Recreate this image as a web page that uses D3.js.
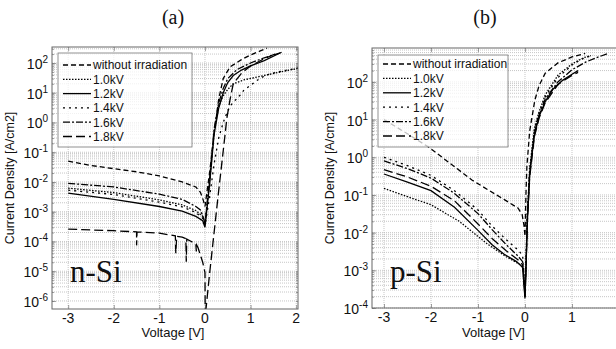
<!DOCTYPE html>
<html>
<head>
<meta charset="utf-8">
<script src="https://cdn.jsdelivr.net/npm/d3@7"></script>
<style>
  body { margin: 0; background: #fff; }
  text { font-family: "Liberation Sans", Arial, sans-serif; fill: #111; }
</style>
</head>
<body>
<div id="my_dataviz"></div>
<script>
// legend labels, same order in both panels
var seriesNames = ["without irradiation", "1.0kV", "1.2kV", "1.4kV", "1.6kV", "1.8kV"];

// tick values
var xTicksA = [-3, -2, -1, 0, 1, 2];
var xTicksB = [-3, -2, -1, 0, 1, 2];
var decadesA = [-6, -5, -4, -3, -2, -1, 0, 1, 2];
var decadesB = [-4, -3, -2, -1, 0, 1, 2];

// (a) n-Si : [voltage V, current density A/cm2]
var nNoIrr = [[-3, 5e-2], [-2.5, 3.6e-2], [-2, 2.8e-2], [-1.5, 2.2e-2], [-1, 1.6e-2], [-0.5, 1.0e-2], [-0.2, 6.8e-3], [-0.1, 4.5e-3], [-0.04, 2.5e-3], [0, 1.5e-3], [0.1, 2e-2], [0.2, 0.4], [0.3, 6], [0.4, 30], [0.55, 74], [0.8, 130], [1.0, 186], [1.2, 250], [1.36, 316]];
var n10 = [[-3, 6.2e-3], [-2, 4.4e-3], [-1, 2.5e-3], [-0.5, 1.7e-3], [-0.2, 1.1e-3], [-0.05, 7e-4], [0, 4e-4], [0.1, 1e-2], [0.2, 0.5], [0.3, 3.5], [0.4, 8], [0.5, 13], [0.62, 20], [0.85, 27], [1.3, 38], [1.6, 48], [2.04, 66]];
var n12 = [[-3, 4.2e-3], [-2, 2.6e-3], [-1, 1.5e-3], [-0.5, 1.05e-3], [-0.2, 7e-4], [-0.05, 5e-4], [0, 3e-4], [0.1, 8e-3], [0.2, 0.4], [0.3, 3], [0.4, 10], [0.5, 22], [0.62, 38], [0.8, 58], [1.0, 80], [1.3, 120], [1.68, 230]];
var n14 = [[-3, 5.3e-3], [-2, 3.8e-3], [-1, 2.1e-3], [-0.5, 1.45e-3], [-0.2, 9.5e-4], [-0.05, 6e-4], [0, 3.5e-4], [0.1, 3e-3], [0.2, 4e-2], [0.3, 0.3], [0.4, 1], [0.5, 2.5], [0.6, 4.5], [0.73, 7], [0.85, 12], [1.0, 18], [1.2, 30], [1.36, 40], [1.6, 50], [2.04, 68]];
var n16 = [[-3, 9e-3], [-2, 6.8e-3], [-1, 3.9e-3], [-0.5, 2.6e-3], [-0.2, 1.5e-3], [-0.1, 1.15e-3], [-0.03, 6e-4], [0, 4e-4], [0.1, 1.2e-2], [0.2, 0.6], [0.3, 4.5], [0.4, 14], [0.5, 30], [0.7, 60], [1.0, 100], [1.3, 150], [1.65, 220]];
var n18 = [[-3, 2.6e-4], [-2.7, 2.5e-4], [-2, 2.3e-4], [-1.5, 2.1e-4], [-1.5, 7.4e-5], [-1.49, 2.1e-4], [-1, 1.9e-4], [-0.65, 1.55e-4], [-0.64, 4e-5], [-0.62, 1.5e-4], [-0.5, 1.4e-4], [-0.42, 1.25e-4], [-0.41, 2.1e-5], [-0.4, 1.2e-4], [-0.3, 1e-4], [-0.2, 8e-5], [-0.19, 4.6e-5], [-0.18, 7.5e-5], [-0.15, 6e-5], [-0.05, 2e-5], [0, 9e-6], [0.005, 3e-7], [0.1, 8e-6], [0.2, 2e-4], [0.3, 5e-3], [0.4, 0.11], [0.48, 1.4], [0.55, 6], [0.62, 20], [0.8, 45], [1.0, 80], [1.3, 140], [1.58, 215]];

// (b) p-Si
var pNoIrr = [[-3, 10], [-2.5, 4.2], [-2.06, 1.9], [-1.6, 0.7], [-1.13, 0.25], [-0.8, 0.14], [-0.43, 0.074], [-0.15, 0.045], [-0.06, 0.03], [-0.02, 0.015], [0, 8e-3], [0.02, 0.1], [0.04, 0.56], [0.1, 5], [0.21, 33], [0.3, 80], [0.43, 170], [0.7, 320], [1.0, 460], [1.28, 570]];
var p10 = [[-3, 0.15], [-2.5, 0.09], [-2, 0.055], [-1.4, 0.02], [-1.1, 1e-2], [-0.8, 5e-3], [-0.4, 2.3e-3], [-0.1, 1.4e-3], [-0.03, 1.1e-3], [0, 2e-4], [0.02, 1.5e-3], [0.05, 0.03], [0.1, 0.5], [0.2, 6], [0.3, 16], [0.43, 45], [0.7, 150], [1.0, 300], [1.25, 440], [1.4, 500]];
var p12 = [[-3, 0.36], [-2.5, 0.22], [-2, 0.13], [-1.5, 0.047], [-1.0, 0.0115], [-0.7, 4.8e-3], [-0.45, 2.7e-3], [-0.18, 1.7e-3], [-0.05, 1.2e-3], [0, 1.8e-4], [0.02, 1e-3], [0.05, 0.02], [0.1, 0.35], [0.2, 4], [0.3, 12], [0.43, 30], [0.6, 65], [0.8, 110], [1.0, 160], [1.13, 200]];
var p14 = [[-3, 1.0], [-2.5, 0.6], [-2, 0.33], [-1.5, 0.13], [-1.0, 0.04], [-0.7, 0.015], [-0.4, 6.5e-3], [-0.15, 3.5e-3], [-0.05, 2.5e-3], [0, 2.5e-4], [0.02, 1.5e-3], [0.05, 0.03], [0.1, 0.45], [0.2, 5], [0.3, 15], [0.43, 40], [0.7, 130], [1.0, 280], [1.2, 400], [1.45, 520]];
var p16 = [[-3, 0.8], [-2.5, 0.5], [-2, 0.28], [-1.5, 0.11], [-1.0, 0.032], [-0.7, 0.012], [-0.4, 4.8e-3], [-0.15, 2.4e-3], [-0.05, 1.7e-3], [0, 2e-4], [0.02, 1.2e-3], [0.05, 0.025], [0.1, 0.4], [0.2, 4.5], [0.3, 13], [0.43, 35], [0.7, 100], [1.0, 210], [1.3, 340], [1.5, 430], [1.75, 560]];
var p18 = [[-3, 0.47], [-2.5, 0.3], [-2, 0.17], [-1.5, 0.07], [-1.0, 0.017], [-0.7, 7e-3], [-0.4, 3.3e-3], [-0.15, 1.9e-3], [-0.05, 1.4e-3], [0, 2e-4], [0.02, 1e-3], [0.05, 0.018], [0.1, 0.3], [0.2, 3.5], [0.3, 11], [0.43, 28], [0.7, 85], [1.0, 150], [1.13, 180]];

// line styles for the six series
var dashes = ["5,3", "1.5,1.5", null, "2,4", "7,2,2,2", "9,4"];

var svg = d3.select("#my_dataviz")
  .append("svg")
  .attr("width", 616)
  .attr("height", 349);

function drawPanel(p) {
  var x = d3.scaleLinear().domain(p.xDomain).range([p.left, p.right]);
  var y = d3.scaleLog().domain(p.yDomain).range([p.bottom, p.top]);
  var g = svg.append("g");

  g.append("rect")
    .attr("x", p.left).attr("y", p.top)
    .attr("width", p.right - p.left).attr("height", p.bottom - p.top)
    .attr("fill", "#fff");

  // minor + major log values inside the domain
  var minors = [];
  p.decades.forEach(function(e) {
    for (var k = 1; k < 10; k++) {
      var v = k * Math.pow(10, e);
      if (v >= p.yDomain[0] && v <= p.yDomain[1]) minors.push(v);
    }
  });

  // grid
  g.append("g")
    .selectAll("line")
    .data(minors)
    .enter().append("line")
    .attr("x1", p.left).attr("x2", p.right)
    .attr("y1", function(d) { return y(d); })
    .attr("y2", function(d) { return y(d); })
    .attr("stroke", "#b8b8b8")
    .attr("stroke-width", 0.8)
    .attr("stroke-dasharray", "1,1");
  g.append("g")
    .selectAll("line")
    .data(p.xTicks.filter(function(d) { return x(d) < p.right - 1; }))
    .enter().append("line")
    .attr("x1", function(d) { return x(d); })
    .attr("x2", function(d) { return x(d); })
    .attr("y1", p.top).attr("y2", p.bottom)
    .attr("stroke", "#b8b8b8")
    .attr("stroke-width", 0.8)
    .attr("stroke-dasharray", "1,1");

  // inward ticks on all four sides
  var majors = p.decades.map(function(e) { return Math.pow(10, e); });
  g.append("g")
    .attr("transform", "translate(" + p.left + ",0)")
    .call(d3.axisRight(y).tickValues(minors).tickSize(2).tickFormat(""));
  g.append("g")
    .attr("transform", "translate(" + p.left + ",0)")
    .call(d3.axisRight(y).tickValues(majors).tickSize(4).tickFormat(""));
  g.append("g")
    .attr("transform", "translate(" + p.right + ",0)")
    .call(d3.axisLeft(y).tickValues(minors).tickSize(2).tickFormat(""));
  g.append("g")
    .attr("transform", "translate(0," + p.bottom + ")")
    .call(d3.axisTop(x).tickValues(p.xTicks).tickSize(4).tickFormat(""));
  g.append("g")
    .attr("transform", "translate(0," + p.top + ")")
    .call(d3.axisBottom(x).tickValues(p.xTicks).tickSize(4).tickFormat(""));
  g.selectAll(".domain").remove();
  g.selectAll(".tick line").attr("stroke", "#777").attr("stroke-width", 0.7);

  // curves
  var clipId = "clip" + p.name;
  g.append("clipPath").attr("id", clipId)
    .append("rect")
    .attr("x", p.left).attr("y", p.top)
    .attr("width", p.right - p.left).attr("height", p.bottom - p.top);

  var line = d3.line()
    .x(function(d) { return x(d[0]); })
    .y(function(d) { return y(d[1]); });

  g.append("g")
    .attr("clip-path", "url(#" + clipId + ")")
    .selectAll("path")
    .data(p.series)
    .enter().append("path")
    .attr("d", line)
    .attr("fill", "none")
    .attr("stroke", "#000")
    .attr("stroke-width", 1.3)
    .attr("stroke-dasharray", function(d, i) { return dashes[i]; });

  // legend, slightly see-through
  var lg = g.append("g");
  lg.append("rect")
    .attr("x", p.legend.x).attr("y", p.legend.y)
    .attr("width", p.legend.w).attr("height", p.legend.h)
    .attr("fill", "#fff").attr("fill-opacity", 0.75)
    .attr("stroke", "#777").attr("stroke-width", 0.8);
  seriesNames.forEach(function(name, i) {
    var ry = p.legend.row0 + i * p.legend.step;
    lg.append("line")
      .attr("x1", p.legend.x + 5).attr("x2", p.legend.x + 33)
      .attr("y1", ry).attr("y2", ry)
      .attr("stroke", "#000").attr("stroke-width", 1.3)
      .attr("stroke-dasharray", dashes[i]);
    lg.append("text")
      .attr("x", p.legend.x + 35).attr("y", ry)
      .attr("dy", "0.36em")
      .style("font-size", "12px")
      .text(name);
  });

  // frame
  g.append("rect")
    .attr("x", p.left).attr("y", p.top)
    .attr("width", p.right - p.left).attr("height", p.bottom - p.top)
    .attr("fill", "none")
    .attr("stroke", "#666").attr("stroke-width", 1);

  // tick labels
  g.append("g")
    .selectAll("text")
    .data(p.xTicks.filter(function(d) { return x(d) < 612; }))
    .enter().append("text")
    .attr("x", function(d) { return x(d); })
    .attr("y", p.bottom + 14)
    .attr("text-anchor", "middle")
    .style("font-size", "14px")
    .text(function(d) { return d; });

  var yl = g.append("g")
    .selectAll("text")
    .data(p.decades)
    .enter().append("text")
    .attr("x", p.left - 4)
    .attr("y", function(d) { return y(Math.pow(10, d)) + 6; })
    .attr("text-anchor", "end")
    .style("font-size", "14px");
  yl.append("tspan").text("10");
  yl.append("tspan")
    .attr("dy", -6)
    .style("font-size", "10px")
    .text(function(d) { return d; });

  // axis titles
  g.append("text")
    .attr("x", (p.left + p.right) / 2 - 2)
    .attr("y", 337)
    .attr("text-anchor", "middle")
    .style("font-size", "13px")
    .text("Voltage [V]");
  g.append("text")
    .attr("transform", "translate(" + (p.left - 38) + "," + ((p.top + p.bottom) / 2) + ") rotate(-90)")
    .attr("text-anchor", "middle")
    .style("font-size", "12.5px")
    .text("Current Density [A/cm2]");

  // panel caption and material
  g.append("text")
    .attr("x", p.captionX).attr("y", 24)
    .attr("text-anchor", "middle")
    .style("font-family", "'Liberation Serif', 'Times New Roman', serif")
    .style("font-size", "20px")
    .text(p.caption);
  g.append("text")
    .attr("x", p.left + 18).attr("y", 282)
    .style("font-family", "'Liberation Serif', 'Times New Roman', serif")
    .style("font-size", "31px")
    .text(p.material);
}

drawPanel({
  name: "A", caption: "(a)", captionX: 173, material: "n-Si",
  left: 52, right: 298, top: 47, bottom: 309,
  xDomain: [-3.355, 2.04], yDomain: [Math.pow(10, -6.27), Math.pow(10, 2.538)],
  xTicks: xTicksA, decades: decadesA,
  series: [nNoIrr, n10, n12, n14, n16, n18],
  legend: { x: 58, y: 53, w: 134, h: 94, row0: 65, step: 14.3 }
});

drawPanel({
  name: "B", caption: "(b)", captionX: 485, material: "p-Si",
  left: 372, right: 619, top: 48, bottom: 308,
  xDomain: [-3.255, 2.0], yDomain: [1e-4, Math.pow(10, 2.9)],
  xTicks: xTicksB, decades: decadesB,
  series: [pNoIrr, p10, p12, p14, p16, p18],
  legend: { x: 378, y: 55, w: 130, h: 92, row0: 64, step: 14.4 }
});
</script>
</body>
</html>
